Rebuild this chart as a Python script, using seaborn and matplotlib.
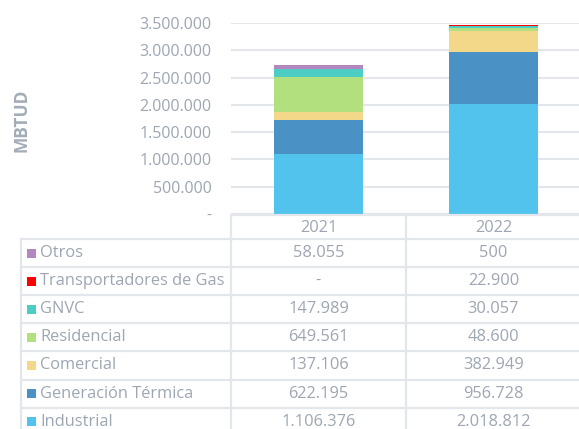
import matplotlib.pyplot as plt
import matplotlib.ticker as mticker
from matplotlib.patches import Rectangle
import seaborn as sns
import numpy as np
import pandas as pd

# data (MBTUD)
years = ['2021', '2022']
industrial = [1106376, 2018812]
generacion = [622195, 956728]
comercial = [137106, 382949]
residencial = [649561, 48600]
gnvc = [147989, 30057]
transportadores = [0, 22900]
otros = [58055, 500]

# bottom to top
series = ['Industrial', 'Generación Térmica', 'Comercial', 'Residencial',
          'GNVC', 'Transportadores de Gas', 'Otros']
values = [industrial, generacion, comercial, residencial, gnvc, transportadores, otros]
colors = ['#52C3ED', '#4A91C5', '#F4D889', '#B3E07F', '#4ECDC4', '#FF0000', '#B387C0']

txt = '#9DA6B2'
grid = '#E3E7EB'

sns.set_theme(style='white')
plt.rcParams['font.family'] = ['Open Sans', 'DejaVu Sans']

df = pd.DataFrame(np.array(values).T, columns=series)
df['year'] = years
cum = df[series].cumsum(axis=1)
cum['year'] = years

W, H = 579, 429
fig = plt.figure(figsize=(W / 100, H / 100), dpi=100)

# chart area in pixel units
x0, x1 = 231, 581
ytop, ybot = 23, 214
ax = fig.add_axes([x0 / W, (H - ybot) / H, (x1 - x0) / W, (ybot - ytop) / H])

# stacked bars: draw cumulative totals from top series down
for name, c in reversed(list(zip(series, colors))):
    sns.barplot(data=cum, x='year', y=name, color=c, width=0.51,
                saturation=1, ax=ax, edgecolor='none')

ax.set_ylim(0, 3500000)
ax.set_yticks(np.arange(0, 3500001, 500000))
ax.yaxis.set_major_formatter(mticker.FuncFormatter(
    lambda v, p: '-' if v == 0 else f'{int(v):,}'.replace(',', '.')))
ax.tick_params(axis='y', length=0, pad=14, labelsize=11.5, labelcolor=txt)
ax.set_xticks([])
ax.set_xlabel('')
ax.set_ylabel('')
ax.grid(axis='y', color=grid, lw=1.5)
ax.set_axisbelow(True)
for s in ax.spines.values():
    s.set_visible(False)
fig.text(22 / W, (H - 120) / H, 'MBTUD', rotation=90, ha='center', va='center',
         fontsize=12.5, fontweight='bold', color='#A3ACB7')

# data table below the chart
tab = fig.add_axes([0, 0, 1, 1], facecolor='none')
tab.set_xlim(0, W)
tab.set_ylim(H, 0)
tab.axis('off')

lx, c1, c2, rx = 21, 231, 406, 581
head_top, head_bot = 214.5, 239
row_h = 28.1
cols = [(c1 + c2) / 2, (c2 + rx) / 2]

lw = 1.6
tab.plot([c1, rx], [head_top, head_top], color=grid, lw=lw)
tab.plot([c1, c1], [head_top, H + 5], color=grid, lw=lw)
tab.plot([c2, c2], [head_top, H + 5], color=grid, lw=lw)
tab.plot([lx, lx], [head_bot, H + 5], color=grid, lw=lw)
for i in range(8):
    yy = head_bot + i * row_h
    tab.plot([lx, rx], [yy, yy], color=grid, lw=lw)

fs = 11.8
for j, yr in enumerate(years):
    tab.text(cols[j], (head_top + head_bot) / 2 + 1, yr, ha='center', va='center',
             fontsize=fs, color=txt)

def fmt(v):
    return '-' if v == 0 else f'{v:,}'.replace(',', '.')

rows = list(zip(series, values, colors))[::-1]
for i, (name, vals, c) in enumerate(rows):
    yc = head_bot + i * row_h + row_h / 2
    tab.add_patch(Rectangle((27, yc - 4.5), 9, 9, color=c, lw=0))
    tab.text(40, yc, name, ha='left', va='center', fontsize=fs, color=txt)
    for j in range(2):
        tab.text(cols[j], yc, fmt(vals[j]), ha='center', va='center',
                 fontsize=fs, color=txt)

fig.savefig('out.png', dpi=100)
